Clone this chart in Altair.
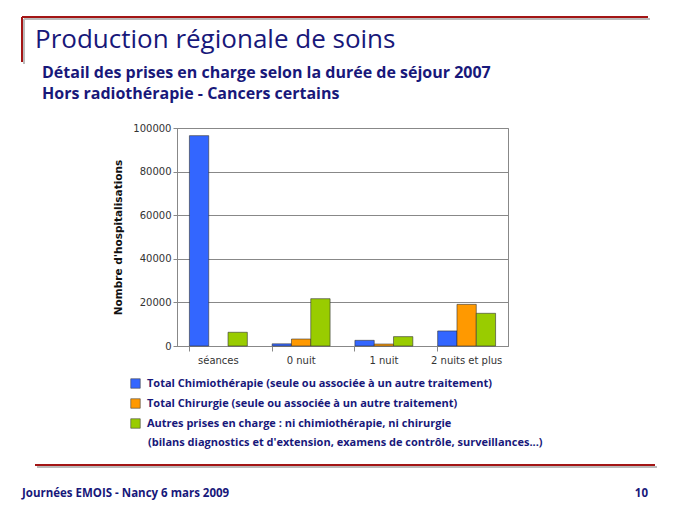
import altair as alt
import pandas as pd

categories = ["séances", "0 nuit", "1 nuit", "2 nuits et plus"]
series = [
    "Total Chimiothérapie (seule ou associée à un autre traitement)",
    "Total Chirurgie (seule ou associée à un autre traitement)",
    "Autres prises en charge : ni chimiothérapie, ni chirurgie",
]
chimio = [96500, 1000, 2600, 6900]
chirurgie = [0, 3200, 900, 19100]
autres = [6300, 21700, 4300, 15000]
colors = ["#3366FF", "#FF9900", "#99CC00"]

title = "Production régionale de soins"
subtitle1 = "Détail des prises en charge selon la durée de séjour 2007"
subtitle2 = "Hors radiothérapie - Cancers certains"
legend_extra = "(bilans diagnostics et d'extension, examens de contrôle, surveillances...)"
footer_left = "Journées EMOIS - Nancy 6 mars 2009"
footer_right = "10"
y_title = "Nombre d'hospitalisations"

rows = []
for s, vals in zip(series, [chimio, chirurgie, autres]):
    for c, v in zip(categories, vals):
        rows.append({"cat": c, "serie": s, "value": v})
df = pd.DataFrame(rows)

NAVY = "#18187a"
RED = "#a31515"
FONT = "Open Sans"

# page coords -> plot coords (plot origin at page (177,128))
OX, OY = 177, 128


def txt(text, px, py, size, weight="normal", align="left", color=NAVY, font=FONT):
    return alt.Chart(pd.DataFrame({"t": [text]})).mark_text(
        align=align, baseline="middle", fontSize=size, fontWeight=weight,
        color=color, font=font
    ).encode(x=alt.value(px - OX), y=alt.value(py - OY), text="t:N")


def hline(px1, px2, py, color=RED, width=2):
    return alt.Chart(pd.DataFrame({"a": [0]})).mark_rule(
        color=color, strokeWidth=width
    ).encode(x=alt.value(px1 - OX), x2=alt.value(px2 - OX), y=alt.value(py - OY))


def vline(px, py1, py2, color=RED, width=2):
    return alt.Chart(pd.DataFrame({"a": [0]})).mark_rule(
        color=color, strokeWidth=width
    ).encode(x=alt.value(px - OX), y=alt.value(py1 - OY), y2=alt.value(py2 - OY))


bars = alt.Chart(df).transform_filter("datum.value > 0").mark_bar(
    stroke="#333333", strokeWidth=0.6
).encode(
    x=alt.X("cat:N", sort=categories, title=None,
            scale=alt.Scale(paddingInner=0.3, paddingOuter=0.15),
            axis=alt.Axis(labelAngle=0, labelFontSize=10, labelColor="#333333",
                          labelFont="DejaVu Sans", bandPosition=0, tickSize=5,
                          tickColor="#888888", domainColor="#888888", labelPadding=4)),
    xOffset=alt.XOffset("serie:N", sort=series, scale=alt.Scale(paddingInner=0, paddingOuter=0)),
    y=alt.Y("value:Q", title=y_title,
            scale=alt.Scale(domain=[0, 100000]),
            axis=alt.Axis(values=[0, 20000, 40000, 60000, 80000, 100000], format="d",
                          labelFontSize=10, labelColor="#333333", labelFont="DejaVu Sans",
                          titleFontSize=10.5, titleFontWeight="bold", titleColor="#111111",
                          titleFont="DejaVu Sans", titlePadding=9,
                          gridColor="#888888", tickColor="#888888", domainColor="#888888",
                          tickSize=4)),
    color=alt.Color("serie:N", sort=series, scale=alt.Scale(domain=series, range=colors),
                    legend=alt.Legend(orient="none", legendX=-47, legendY=250, title=None,
                                      symbolType="square", symbolSize=90,
                                      symbolStrokeColor="#444444", symbolStrokeWidth=0.6,
                                      labelFontSize=11, labelFontWeight="bold",
                                      labelColor=NAVY, labelFont=FONT, labelLimit=500,
                                      rowPadding=7, labelOffset=6)),
)

layers = [
    bars,
    hline(24, 650, 19, color="#bbbbbb"), vline(24, 19, 64, color="#bbbbbb"),
    hline(22, 648, 17), vline(22, 17, 62),
    hline(37, 657, 467, color="#bbbbbb"),
    hline(35, 655, 465),
    txt(title, 35, 40, 26, "normal"),
    txt(subtitle1, 42, 73, 16, "bold"),
    txt(subtitle2, 42, 94, 16, "bold"),
    txt(legend_extra, 148, 443, 11, "bold"),
    txt(footer_left, 22, 494, 11.5, "bold"),
    txt(footer_right, 648, 494, 11.5, "bold", align="right"),
]

chart = alt.layer(*layers).properties(
    width=331, height=218,
    autosize=alt.AutoSizeParams(type="none"),
    padding={"left": 169, "top": 120, "right": 165, "bottom": 155},
    background="white",
).configure_view(stroke="#888888", strokeWidth=1)

chart.save("out.html", embed_options={"renderer": "svg", "actions": False})
